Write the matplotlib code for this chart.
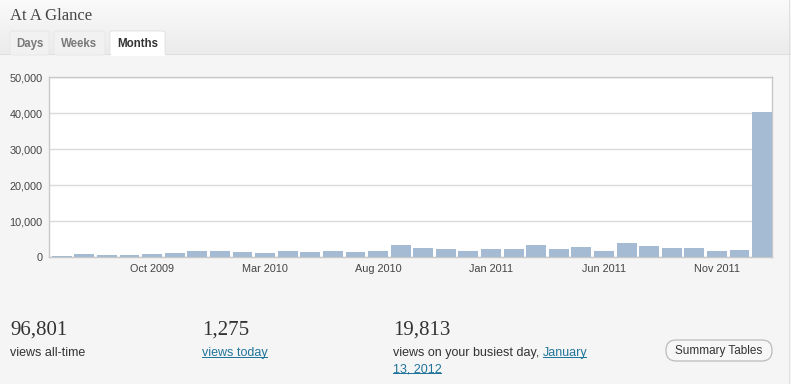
import matplotlib
matplotlib.use("Agg")
import matplotlib.pyplot as plt
from matplotlib.patches import FancyBboxPatch, Rectangle
import numpy as np

months = ["Jun 2009", "Jul 2009", "Aug 2009", "Sep 2009", "Oct 2009", "Nov 2009", "Dec 2009",
          "Jan 2010", "Feb 2010", "Mar 2010", "Apr 2010", "May 2010", "Jun 2010", "Jul 2010",
          "Aug 2010", "Sep 2010", "Oct 2010", "Nov 2010", "Dec 2010", "Jan 2011", "Feb 2011",
          "Mar 2011", "Apr 2011", "May 2011", "Jun 2011", "Jul 2011", "Aug 2011", "Sep 2011",
          "Oct 2011", "Nov 2011", "Dec 2011", "Jan 2012"]
views = [400, 900, 750, 650, 800, 1100, 1750, 1750, 1500, 1200, 1650, 1600, 1650, 1500,
         1650, 3400, 2500, 2300, 1850, 2400, 2300, 3300, 2400, 3000, 1850, 4100, 3250, 2600,
         2700, 1750, 1950, 40300]
tick_labels = ["Oct 2009", "Mar 2010", "Aug 2010", "Jan 2011", "Jun 2011", "Nov 2011"]
y_ticks = [0, 10000, 20000, 30000, 40000, 50000]
tabs = ["Days", "Weeks", "Months"]
stats_numbers = ["96,801", "1,275", "19,813"]

W, H = 791, 384
fig = plt.figure(figsize=(W / 100, H / 100), dpi=100)
fig.patch.set_facecolor("#f5f5f5")

def fx(px):
    return px / W

def fy(py):
    return 1 - py / H

# header gradient
grad = np.linspace(0, 1, 100).reshape(-1, 1)
hax = fig.add_axes([0, fy(54), 1, 54 / H])
hax.imshow(grad, aspect="auto", cmap=matplotlib.colors.LinearSegmentedColormap.from_list(
    "g", ["#fafafa", "#ebebeb"]), extent=[0, 1, 0, 1])
hax.set_axis_off()
fig.add_artist(Rectangle((0, fy(55)), 1, 1 / H, transform=fig.transFigure,
                         facecolor="#dfdfdf", edgecolor="none"))
# right card border
fig.add_artist(Rectangle((fx(789), 0), 1 / W, 1, transform=fig.transFigure,
                         facecolor="#dfdfdf", edgecolor="none"))

fig.text(fx(10), fy(16), "At A Glance", family="Liberation Serif", fontsize=12,
         color="#464646", va="center", ha="left")

# tabs
tab_x = [(10, 49), (54, 105), (110, 165)]
for i, (name, (x0, x1)) in enumerate(zip(tabs, tab_x)):
    active = name == "Months"
    fc = "#ffffff" if active else "#f1f1f1"
    fig.add_artist(FancyBboxPatch((fx(x0), fy(55)), fx(x1 - x0), 24 / H,
                                  boxstyle="round,pad=0,rounding_size=0.004",
                                  transform=fig.transFigure, facecolor=fc,
                                  edgecolor="#e6e6e6" if not active else "#e0e0e0", lw=0.6))
    fig.text(fx((x0 + x1) / 2), fy(44), name, family="Liberation Sans", fontsize=8.3,
             fontweight="bold", color="#333333" if active else "#7a7a7a",
             ha="center", va="center")
fig.add_artist(Rectangle((fx(110.5), fy(56)), fx(54), 2 / H, transform=fig.transFigure,
                         facecolor="#ffffff", edgecolor="none"))

# chart
ax = fig.add_axes([fx(49.3), fy(257.3), fx(723), 180 / H])
ax.set_facecolor("white")
x = np.arange(len(views))
ax.bar(x, views, width=0.88, color="#a5bbd3", edgecolor="none", zorder=3)
ax.set_xlim(-0.55, len(views) - 0.55)
ax.set_ylim(0, 50000)
ax.set_yticks(y_ticks)
ax.set_yticklabels([f"{v:,}" for v in y_ticks])
ax.set_xticks([months.index(t) for t in tick_labels])
ax.set_xticklabels(tick_labels)
ax.grid(axis="y", color="#dadada", lw=1, zorder=0)
ax.tick_params(length=0, labelsize=7.8, labelcolor="#444444", pad=5)
for lab in ax.get_xticklabels() + ax.get_yticklabels():
    lab.set_family("Liberation Sans")
for side, sp in ax.spines.items():
    sp.set_color("#c8c8c8")
    sp.set_linewidth(1)

# bottom stats
serif = "Liberation Serif"
sans = "Liberation Sans"
link = "#21759b"
num_x = [10, 202, 393]
for nx, s in zip(num_x, stats_numbers):
    fig.text(fx(nx), fy(330), s, family=serif, fontsize=15, color="#333333",
             ha="left", va="center")
fig.text(fx(10), fy(353), "views all-time", family=sans, fontsize=9, color="#333333",
         va="center")
t = fig.text(fx(202), fy(353), "views today", family=sans, fontsize=9, color=link,
             va="center")
t1 = fig.text(fx(393), fy(353), "views on your busiest day, ", family=sans, fontsize=9,
              color="#333333", va="center")
fig.canvas.draw()
r = fig.canvas.get_renderer()
bb = t1.get_window_extent(r)
tl = fig.text(bb.x1 / W, fy(353), "January", family=sans, fontsize=9, color=link,
              va="center")
tl2 = fig.text(fx(393), fy(369), "13, 2012", family=sans, fontsize=9, color=link,
               va="center")
fig.canvas.draw()
for tt in (t, tl, tl2):
    b = tt.get_window_extent(r)
    fig.add_artist(Rectangle((b.x0 / W, (b.y0 + 1) / H), (b.x1 - b.x0) / W, 1 / H,
                             transform=fig.transFigure, facecolor=link, edgecolor="none"))

# button (drawn in a pixel-unit overlay so the pill shape is round)
bax = fig.add_axes([fx(660), fy(366), fx(120), 30 / H])
bax.set_xlim(660, 780)
bax.set_ylim(366, 336)
bax.set_axis_off()
bax.patch.set_visible(False)
bax.add_patch(FancyBboxPatch((666, 340), 106, 21,
                             boxstyle="round,pad=0,rounding_size=10",
                             facecolor="#f7f7f7", edgecolor="#bbbbbb", lw=0.9))
bax.text(719, 350.8, "Summary Tables", family=sans, fontsize=8.5, color="#333333",
         ha="center", va="center")

fig.savefig("out.png", dpi=100, facecolor=fig.get_facecolor())
